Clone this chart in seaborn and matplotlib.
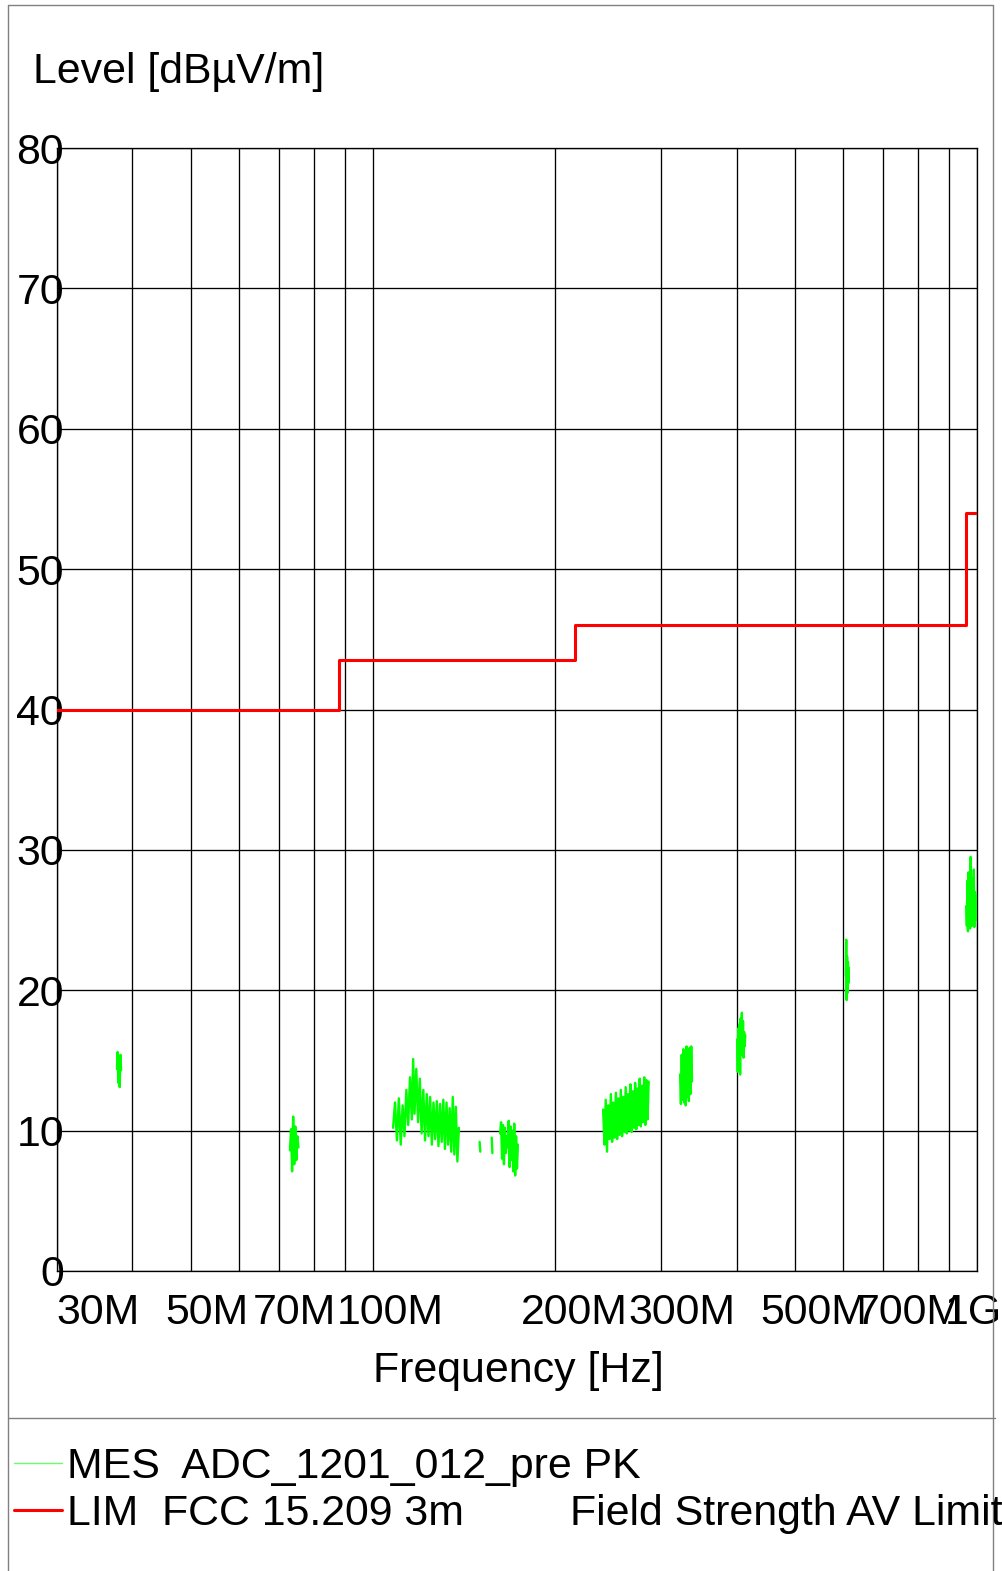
import pandas                as pd
import seaborn               as sns
import matplotlib.pyplot     as plt

from matplotlib.lines        import Line2D
from matplotlib.transforms   import blended_transform_factory, offset_copy


# limit line FCC 15.209 3m (MHz, dBuV/m)
LIM_FREQ    = [30, 88, 216, 960, 1000]
LIM_LEVEL   = [40, 43.5, 46, 54, 54]

MES_F1 = [37.7, 37.8, 37.9, 38.0, 38.1, 38.2, 38.3]
MES_L1 = [14.4, 15.6, 13.4, 15.2, 13.1, 15.4, 14.3]

MES_F2 = [72.9, 73.2, 73.5, 73.8, 74.1, 74.4, 74.7, 75.0, 75.3]
MES_L2 = [8.6, 10.1, 7.1, 11.0, 7.6, 10.3, 7.9, 9.6, 8.8]

MES_F3 = [108.0, 108.8, 109.6, 110.4, 111.2, 112.0, 112.8, 113.6, 114.4, 115.2,
          116.0, 116.6, 117.2, 118.0, 118.8, 119.6, 120.4, 121.2, 122.0, 122.8,
          123.6, 124.4, 125.2, 126.0, 126.8, 127.6, 128.4, 129.2, 130.0, 130.8,
          131.6, 132.4, 133.2, 134.0, 134.8, 135.6, 136.4, 137.2, 138.0, 138.8]
MES_L3 = [10.2, 12.0, 9.3, 12.3, 9.0, 11.8, 9.6, 12.9, 10.4, 13.8,
          10.8, 15.1, 11.2, 14.4, 10.6, 13.7, 9.8, 12.9, 9.3, 12.6,
          9.6, 12.4, 9.0, 12.0, 9.4, 12.1, 8.9, 11.9, 9.2, 12.2,
          8.7, 12.0, 9.0, 11.6, 8.5, 12.4, 8.3, 11.7, 7.8, 10.2]

MES_F4 = [150.2, 150.6]
MES_L4 = [9.2, 8.5]

MES_F5 = [157.3, 157.7]
MES_L5 = [9.5, 8.4]

MES_F6 = [162.4, 163.0, 163.6, 164.2, 164.8, 165.4, 166.0, 166.6, 167.2, 167.8,
          168.4, 169.0, 169.6, 170.2, 170.8, 171.4, 172.0, 172.6, 173.2, 173.8]
MES_L6 = [9.8, 10.6, 8.0, 10.4, 7.6, 10.2, 8.4, 9.6, 8.8, 10.7,
          7.4, 10.3, 7.9, 10.0, 7.1, 10.5, 6.8, 9.6, 7.3, 9.0]

MES_F7 = [240.5, 241.7, 242.9, 244.1, 245.3, 246.5, 247.7, 248.9, 250.1, 251.3,
          252.5, 253.7, 254.9, 256.1, 257.3, 258.5, 259.7, 260.9, 262.1, 263.3,
          264.5, 265.7, 266.9, 268.1, 269.3, 270.5, 271.7, 272.9, 274.1, 275.3,
          276.5, 277.7, 278.9, 280.1, 281.3, 282.5, 283.7, 284.9, 286.1]
MES_L7 = [11.5, 9.0, 12.2, 8.5, 11.8, 9.4, 12.6, 9.2, 12.0, 9.5,
          12.7, 9.4, 12.3, 9.7, 12.9, 9.6, 12.4, 9.9, 13.1, 9.8,
          12.6, 10.0, 13.3, 9.9, 12.8, 10.2, 13.4, 10.1, 13.0, 10.4,
          13.7, 10.3, 13.2, 10.6, 13.8, 10.4, 13.6, 10.8, 13.5]

MES_F8 = [322.5, 323.5, 324.5, 325.5, 326.5, 327.5, 328.5, 329.5,
          330.5, 331.5, 332.5, 333.5, 334.5, 335.5, 336.5, 337.5]
MES_L8 = [14.0, 11.9, 15.4, 12.2, 15.8, 12.0, 15.2, 11.8,
          16.0, 12.4, 15.5, 12.1, 15.9, 12.6, 16.0, 13.5]

MES_F9 = [400.9, 401.8, 402.7, 403.6, 404.5, 405.4, 406.3, 407.2,
          408.1, 409.0, 409.9, 410.8, 411.7, 412.6, 413.4]
MES_L9 = [16.5, 14.2, 17.3, 15.0, 17.6, 14.0, 18.0, 15.4,
          18.4, 15.6, 17.8, 15.2, 17.0, 16.0, 16.8]

MES_F10 = [606.5, 607.5, 608.5, 609.5, 610.5, 611.5, 612.5, 613.5]
MES_L10 = [21.0, 23.6, 19.3, 22.4, 19.8, 22.0, 20.5, 21.6]

MES_F11 = [960, 962, 964, 966, 968, 970, 972, 974, 976, 978, 980,
           982, 984, 986, 988, 990, 992, 994, 996, 998, 1000]
MES_L11 = [26.0, 24.6, 27.8, 24.2, 28.4, 24.8, 27.2, 24.4, 29.5, 25.0, 28.0,
           24.6, 27.4, 25.2, 28.6, 24.5, 27.0, 25.4, 26.8, 25.0, 26.2]

GRID_FREQ   = [30, 40, 50, 60, 70, 80, 90, 100, 200, 300, 400, 500, 600, 700, 800, 900, 1000]
LABEL_FREQ  = [30, 50, 70, 100, 200, 300, 500, 700, 1000]
LABEL_TEXT  = ["30M", "50M", "70M", "100M", "200M", "300M", "500M", "700M", "1G"]
LABEL_SHIFT = [-1, -26, -27, -36, -34, -33, -35, -28, -32]   # px, left edge vs tick
Y_TICKS     = [0, 10, 20, 30, 40, 50, 60, 70, 80]

W, H   = 1002, 1571
FS     = 30.9
GREEN  = "#00ff00"
RED    = "#ff0000"
FRAME  = "#808080"
GRID   = "#000000"


def make_plot():

    sns.set_theme(style="white")
    plt.rcParams['font.family']     = ['Liberation Sans', 'DejaVu Sans']
    plt.rcParams['text.color']      = 'black'
    plt.rcParams['ytick.color']     = 'black'
    plt.rcParams['xtick.color']     = 'black'
    plt.rcParams['axes.labelcolor'] = 'black'

    segs = [
        (MES_F1, MES_L1), (MES_F2, MES_L2), (MES_F3, MES_L3), (MES_F4, MES_L4),
        (MES_F5, MES_L5), (MES_F6, MES_L6), (MES_F7, MES_L7), (MES_F8, MES_L8),
        (MES_F9, MES_L9), (MES_F10, MES_L10), (MES_F11, MES_L11),
    ]
    mes = pd.concat(
        [pd.DataFrame({'freq': f, 'level': l, 'seg': i}) for i, (f, l) in enumerate(segs)],
        ignore_index=True
    )
    lim = pd.DataFrame({'freq': LIM_FREQ, 'level': LIM_LEVEL})

    fig = plt.figure(figsize=(W / 100, H / 100), dpi=100)
    ax  = fig.add_axes([57 / W, (H - 1271) / H, 920 / W, 1123 / H])

    ax.set_xscale('log')

    sns.lineplot(
        data      =mes,
        x         ='freq',
        y         ='level',
        units     ='seg',
        estimator =None,
        sort      =False,
        color     =GREEN,
        lw        =1.7,
        ax        =ax,
        zorder    =3
    )
    sns.lineplot(
        data      =lim,
        x         ='freq',
        y         ='level',
        estimator =None,
        drawstyle ='steps-post',
        color     =RED,
        lw        =2.2,
        ax        =ax,
        zorder    =4
    )

    ax.set_xlim(30, 1000)
    ax.set_ylim(0, 80)
    ax.set_xticks(GRID_FREQ)
    ax.set_xticks([], minor=True)
    ax.set_xticklabels([])
    ax.set_yticks(Y_TICKS)
    ax.set_yticklabels([str(v) for v in Y_TICKS], fontsize=FS, color='black')
    ax.tick_params(axis='y', length=0, pad=-5)
    ax.tick_params(axis='x', length=0)
    ax.grid(True, which='major', color=GRID, lw=0.95)
    ax.set_xlabel('')
    ax.set_ylabel('')
    for sp in ax.spines.values():
        sp.set_color(GRID)
        sp.set_linewidth(0.95)

    # frequency labels, shifted like the receiver software does
    base = blended_transform_factory(ax.transData, ax.transAxes)
    for f, txt, dx in zip(LABEL_FREQ, LABEL_TEXT, LABEL_SHIFT):
        tr = offset_copy(base, fig=fig, x=dx, y=-53, units='dots')
        ax.text(f, 0, txt, transform=tr, fontsize=FS, ha='left', va='baseline',
                color='black', clip_on=False)

    fig.text(33 / W, (H - 83) / H, 'Level [dBµV/m]', fontsize=FS, ha='left', va='baseline')
    fig.text(518 / W, (H - 1382) / H, 'Frequency [Hz]', fontsize=FS, ha='center', va='baseline')

    # legend block
    fig.add_artist(Line2D([14 / W, 62 / W], [(H - 1463) / H] * 2, color="#66ff66", lw=1.0))
    fig.add_artist(Line2D([14 / W, 62 / W], [(H - 1510) / H] * 2, color=RED, lw=2.2))
    fig.text(67 / W, (H - 1478) / H, 'MES  ADC_1201_012_pre PK', fontsize=FS, va='baseline')
    fig.text(67 / W, (H - 1525) / H, 'LIM  FCC 15.209 3m', fontsize=FS, va='baseline')
    fig.text(570 / W, (H - 1525) / H, 'Field Strength AV Limit', fontsize=FS, va='baseline')

    # outer frame and separator
    fig.add_artist(Line2D([7.5 / W, 7.5 / W], [0, (H - 4.5) / H], color=FRAME, lw=1.0))
    fig.add_artist(Line2D([993 / W, 993 / W], [0, (H - 4.5) / H], color=FRAME, lw=1.0))
    fig.add_artist(Line2D([7.5 / W, 993 / W], [(H - 4.5) / H] * 2, color=FRAME, lw=1.0))
    fig.add_artist(Line2D([7.5 / W, 995 / W], [(H - 1418) / H] * 2, color=FRAME, lw=1.0))

    fig.savefig('out.png', dpi=100, facecolor='white')


if __name__ == '__main__':
    make_plot()
